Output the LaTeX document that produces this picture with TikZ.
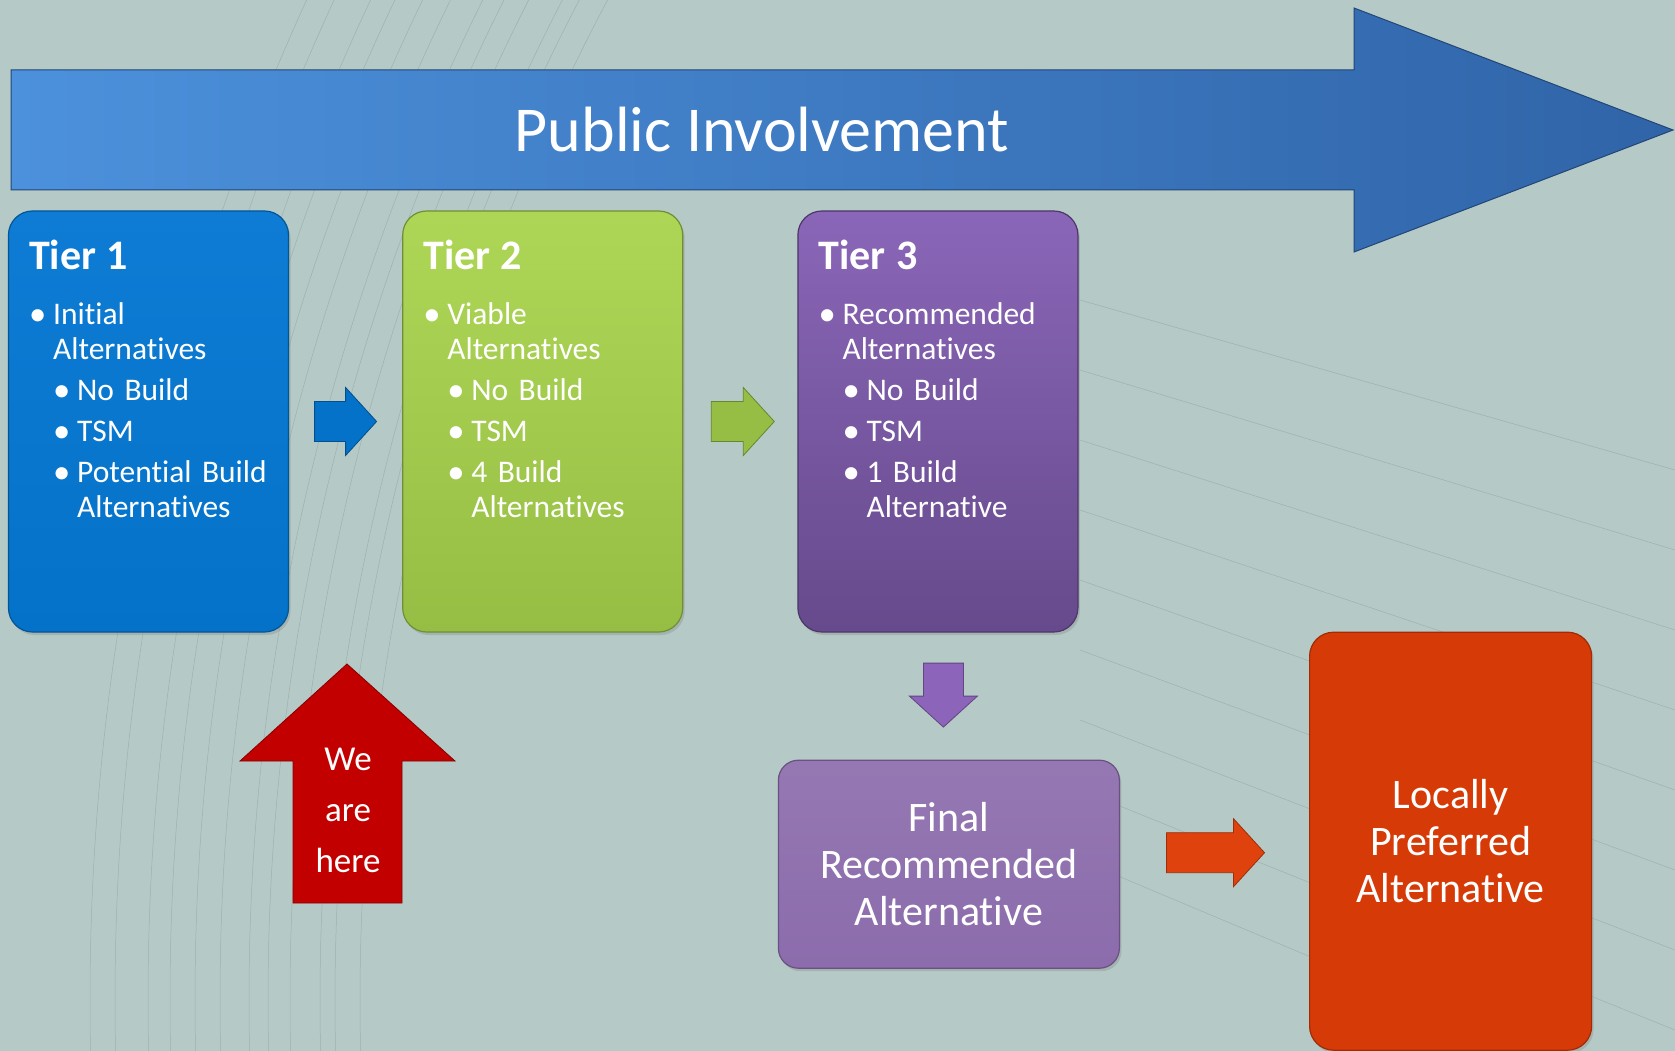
\documentclass[tikz,border=0pt]{standalone}
\usepackage{fontspec}
\setmainfont{Carlito}[Ligatures=NoCommon]
\usetikzlibrary{positioning,calc,shadows}

\definecolor{bgteal}{RGB}{181,201,198}
\definecolor{sketchline}{RGB}{112,138,136}
\definecolor{pibluel}{RGB}{76,145,220}
\definecolor{piblued}{RGB}{48,100,168}
\definecolor{tierbluel}{RGB}{14,124,212}
\definecolor{tierblue}{RGB}{4,114,200}
\definecolor{tiergreenl}{RGB}{174,214,86}
\definecolor{tiergreen}{RGB}{150,190,68}
\definecolor{tierpurplel}{RGB}{138,102,184}
\definecolor{tierpurple}{RGB}{102,74,140}
\definecolor{finalpurple}{RGB}{140,108,172}
\definecolor{lpaorange}{RGB}{214,58,6}
\definecolor{herered}{RGB}{194,0,0}
\definecolor{arroworange}{RGB}{224,66,14}
\definecolor{arrowpurple}{RGB}{140,100,186}

\tikzset{
  tierbox/.style={rectangle, rounded corners=24pt, minimum width=280pt, minimum height=421pt,
    inner sep=0pt, line width=1.2pt, drop shadow={opacity=0.3, shadow xshift=2pt, shadow yshift=-3pt}},
  tiertext/.style={anchor=north west, inner sep=0pt, text=white, text width=250pt, align=left,
    font=\fontsize{31.5}{35}\selectfont},
  bigtext/.style={text=white, align=center, font=\fontsize{42}{47}\selectfont},
  blockarrow/.style={draw=#1!70!black, fill=#1, line width=0.8pt},
  sketch/.style={draw=sketchline, line width=0.5pt, opacity=0.35}
}
\newcommand{\tierhead}[1]{{\fontsize{42}{47}\selectfont\bfseries #1}}
\newcommand{\dotmark}{\raisebox{-1pt}{\scalebox{1.1}{•}}}
\newcommand{\itemA}[1]{\hspace*{0pt}\makebox[24pt][l]{\dotmark}#1}
\newcommand{\itemB}[1]{\hspace*{24pt}\makebox[24pt][l]{\dotmark}#1}
\newcommand{\contA}[1]{\hspace*{24pt}#1}
\newcommand{\contB}[1]{\hspace*{48pt}#1}
% block arrow: #1 head base, #2 angle, #3 tail length, #4 colour
\newcommand{\flowarrow}[4]{%
  \path[blockarrow=#4, shift={(#1)}, rotate=#2]
    (-#3,-20) -- (0,-20) -- (0,-34) -- (31,0) -- (0,34) -- (0,20) -- (-#3,20) -- cycle;}

\begin{document}
\begin{tikzpicture}[x=1pt, y=-1pt]
        % Background
        \fill[bgteal] (0,0) rectangle (1675,1051);
        \useasboundingbox (0,0) rectangle (1675,1051);
        \begin{scope}
            \clip (0,0) rectangle (1675,1051);
            \foreach \r in {2140,2165,2180,2210,2232,2251,2280,2305,2330,2352,2385,2410}
                \draw[sketch] (2500,1000) circle[radius=\r pt];
            \foreach \k in {0,...,8}
                \draw[sketch] (1080,300+70*\k) -- (1675,470+80*\k);
        \end{scope}
        % Public involvement arrow
        \path[draw=piblued!70!black, line width=1pt, left color=pibluel, right color=piblued]
            (11,70) -- (1354,70) -- (1354,8) -- (1673,130) -- (1354,252) -- (1354,190) -- (11,190) -- cycle;
        \node[text=white, font=\fontsize{64}{70}\selectfont] (public) at (762,130) {Public Involvement};
        % Place nodes
        \node[tierbox, draw=tierblue!75!black, top color=tierbluel, bottom color=tierblue] (tier1) at (148.5,421.5) {};
        \node[tierbox, draw=tiergreen!75!black, top color=tiergreenl, bottom color=tiergreen, right=113pt of tier1] (tier2) {};
        \node[tierbox, draw=tierpurple!75!black, top color=tierpurplel, bottom color=tierpurple, right=114pt of tier2] (tier3) {};
        \node[tierbox, bigtext, draw=finalpurple!75!black, top color=finalpurple!92!white, bottom color=finalpurple,
            rounded corners=20pt, minimum width=341pt, minimum height=208pt, below=127pt of tier3, xshift=11pt]
            (final) {Final\\Recommended\\Alternative};
        \node[tierbox, bigtext, draw=lpaorange!75!black, fill=lpaorange, minimum width=282pt, minimum height=418pt,
            right=189pt of final, yshift=23pt] (lpa) {Locally\\Preferred\\Alternative};
        % Tier contents
        \node[tiertext] (tier1txt) at ([xshift=21pt, yshift=-29pt]tier1.north west)
            {\tierhead{Tier 1}\\[20pt]
             \itemA{Initial}\\ \contA{Alternatives}\\[6pt]
             \itemB{No Build}\\[6pt] \itemB{TSM}\\[6pt]
             \itemB{Potential Build}\\ \contB{Alternatives}};
        \node[tiertext] (tier2txt) at ([xshift=21pt, yshift=-29pt]tier2.north west)
            {\tierhead{Tier 2}\\[20pt]
             \itemA{Viable}\\ \contA{Alternatives}\\[6pt]
             \itemB{No Build}\\[6pt] \itemB{TSM}\\[6pt]
             \itemB{4 Build}\\ \contB{Alternatives}};
        \node[tiertext] (tier3txt) at ([xshift=21pt, yshift=-29pt]tier3.north west)
            {\tierhead{Tier 3}\\[20pt]
             \itemA{Recommended}\\ \contA{Alternatives}\\[6pt]
             \itemB{No Build}\\[6pt] \itemB{TSM}\\[6pt]
             \itemB{1 Build}\\ \contB{Alternative}};
        % Draw arrows
        \flowarrow{$(tier1.east)!0.5!(tier2.west)$}{0}{31}{tierblue}
        \flowarrow{$(tier2.east)!0.5!(tier3.west)+(3,0)$}{0}{32}{tiergreen}
        \flowarrow{$(tier3.south)!0.5!(final.north)$}{-90}{33}{arrowpurple}
        \flowarrow{$(final.east)!0.5!(lpa.west)+(19,0)$}{0}{67}{arroworange}
        % We are here
        \path[draw=herered!70!black, fill=herered, line width=0.8pt]
            (293,903) -- (293,761) -- (240,761) -- (347,664) -- (455,761) -- (402,761) -- (402,903) -- cycle;
        \node[bigtext, font=\fontsize{35}{51}\selectfont] (here) at (348,810) {We\\are\\here};
    \end{tikzpicture}
\end{document}
